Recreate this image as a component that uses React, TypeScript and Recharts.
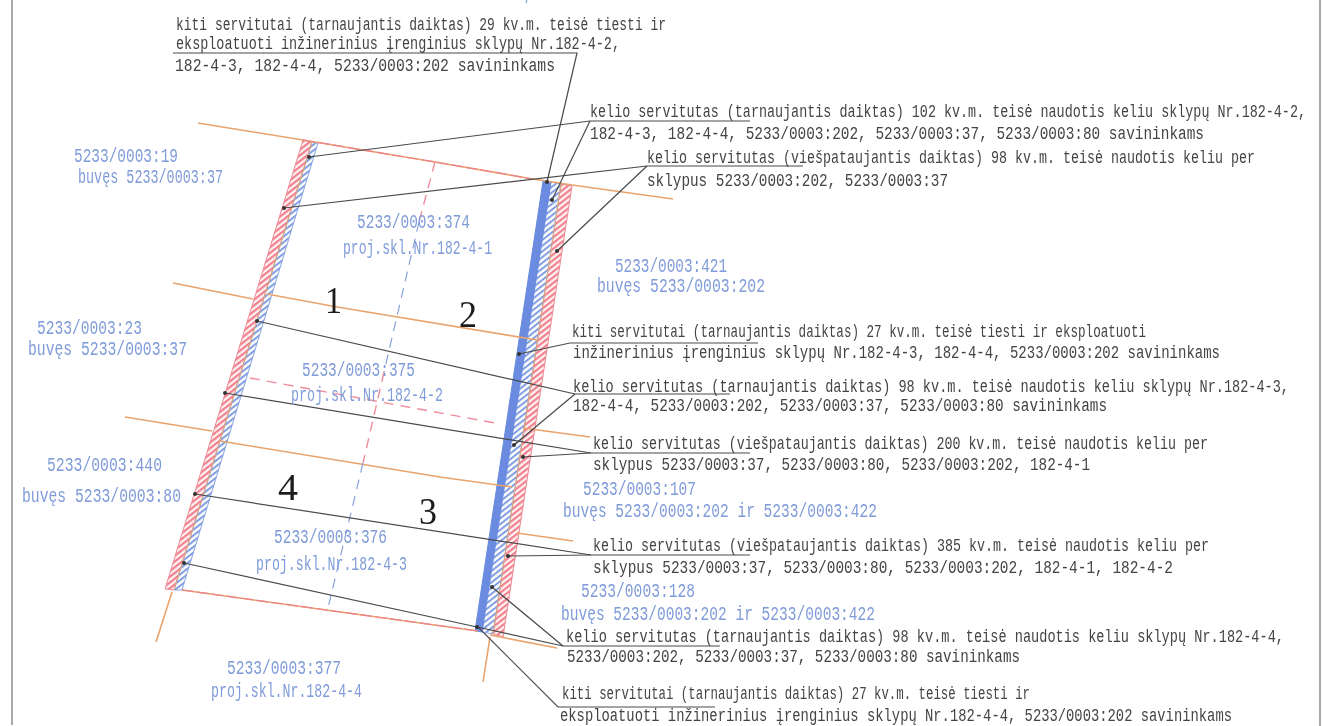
import { ScatterChart, Scatter, XAxis, YAxis } from 'recharts';

type Pt = [number, number];
type Label = { x: number; x2: number; y: number; text: string };

const WIDTH = 1322;
const HEIGHT = 726;

// map outline, in sheet coordinates
const redHatchStrips: Pt[][] = [
  [[303, 140], [312, 142], [174, 590], [165, 589], [303, 140]],
  [[561, 184], [572, 186], [503, 637], [493, 634], [561, 184]],
];
const blueHatchStrips: Pt[][] = [
  [[312, 142], [318, 143], [182, 590], [174, 590], [312, 142]],
  [[551, 182], [561, 184], [493, 634], [482, 632], [551, 182]],
];
const solidBlueStrips: Pt[][] = [
  [[543, 181], [551, 182], [482, 632], [475, 631], [543, 181]],
];
const sheetEdges: Pt[][] = [
  [[12, 0], [12, 725]],
  [[1320, 0], [1320, 726]],
];
const orangeLines: Pt[][] = [
  [[198, 123], [303, 140], [435, 162], [533, 179], [572, 185], [673, 199]],
  [[173, 283], [253, 299]],
  [[267, 294], [337, 307], [537, 340]],
  [[125, 417], [212, 431]],
  [[220, 441], [440, 477], [512, 487]],
  [[523, 428], [590, 437]],
  [[517, 533], [573, 541]],
  [[182, 590], [478, 631]],
  [[490, 635], [557, 648]],
  [[490, 637], [483, 682]],
  [[172, 592], [156, 642]],
];
const stripSeams: Pt[][] = [
  [[312, 142], [174, 590]],
  [[561, 184], [493, 634]],
];
const redLines: Pt[][] = [
  [[303, 140], [435, 162], [533, 179]],
  [[182, 590], [478, 631]],
];
const redDashes: Pt[][] = [
  [[435, 162], [419, 222]],
  [[250, 378], [495, 423]],
  [[384, 372], [363, 463]],
];
const blueDashes: Pt[][] = [
  [[527, 0], [526, 3]],
  [[419, 222], [384, 372]],
  [[363, 463], [327, 612]],
];
const leaderLines: Pt[][] = [
  [[173, 53], [577, 53], [547, 182]],
  [[309, 157], [590, 121], [750, 121]],
  [[590, 121], [552, 200]],
  [[284, 208], [647, 166], [803, 166]],
  [[647, 166], [557, 251]],
  [[519, 354], [570, 343], [758, 343]],
  [[257, 321], [575, 394], [730, 394]],
  [[575, 394], [514, 445]],
  [[225, 393], [591, 453], [750, 453]],
  [[591, 453], [523, 457]],
  [[195, 494], [591, 555], [750, 555]],
  [[591, 555], [508, 556]],
  [[184, 563], [477, 627], [563, 646], [720, 646]],
  [[563, 646], [492, 587]],
  [[478, 627], [558, 707], [715, 707]],
];
const leaderEnds: Pt[] = [
  [547, 182], [309, 157], [552, 200], [284, 208], [557, 251], [519, 354], [257, 321], [514, 445],
  [225, 393], [523, 457], [195, 494], [508, 556], [184, 563], [477, 627], [492, 587],
];

const noteLines: Label[] = [
  { x: 176, x2: 666, y: 30, text: 'kiti servitutai (tarnaujantis daiktas) 29 kv.m. teisė tiesti ir' },
  { x: 176, x2: 620, y: 49, text: 'eksploatuoti inžinerinius įrenginius sklypų Nr.182-4-2,' },
  { x: 175, x2: 555, y: 71, text: '182-4-3, 182-4-4, 5233/0003:202 savininkams' },
  { x: 590, x2: 1306, y: 117, text: 'kelio servitutas (tarnaujantis daiktas) 102 kv.m. teisė naudotis keliu sklypų Nr.182-4-2,' },
  { x: 590, x2: 1204, y: 139, text: '182-4-3, 182-4-4, 5233/0003:202, 5233/0003:37, 5233/0003:80 savininkams' },
  { x: 647, x2: 1255, y: 163, text: 'kelio servitutas (viešpataujantis daiktas) 98 kv.m. teisė naudotis keliu per' },
  { x: 647, x2: 948, y: 186, text: 'sklypus 5233/0003:202, 5233/0003:37' },
  { x: 572, x2: 1146, y: 337, text: 'kiti servitutai (tarnaujantis daiktas) 27 kv.m. teisė tiesti ir eksploatuoti' },
  { x: 573, x2: 1220, y: 358, text: 'inžinerinius įrenginius sklypų Nr.182-4-3, 182-4-4, 5233/0003:202 savininkams' },
  { x: 573, x2: 1289, y: 392, text: 'kelio servitutas (tarnaujantis daiktas) 98 kv.m. teisė naudotis keliu sklypų Nr.182-4-3,' },
  { x: 573, x2: 1107, y: 411, text: '182-4-4, 5233/0003:202, 5233/0003:37, 5233/0003:80 savininkams' },
  { x: 593, x2: 1208, y: 449, text: 'kelio servitutas (viešpataujantis daiktas) 200 kv.m. teisė naudotis keliu per' },
  { x: 593, x2: 1090, y: 470, text: 'sklypus 5233/0003:37, 5233/0003:80, 5233/0003:202, 182-4-1' },
  { x: 593, x2: 1209, y: 551, text: 'kelio servitutas (viešpataujantis daiktas) 385 kv.m. teisė naudotis keliu per' },
  { x: 593, x2: 1173, y: 573, text: 'sklypus 5233/0003:37, 5233/0003:80, 5233/0003:202, 182-4-1, 182-4-2' },
  { x: 566, x2: 1284, y: 642, text: 'kelio servitutas (tarnaujantis daiktas) 98 kv.m. teisė naudotis keliu sklypų Nr.182-4-4,' },
  { x: 567, x2: 1020, y: 662, text: '5233/0003:202, 5233/0003:37, 5233/0003:80 savininkams' },
  { x: 562, x2: 1030, y: 699, text: 'kiti servitutai (tarnaujantis daiktas) 27 kv.m. teisė tiesti ir' },
  { x: 560, x2: 1232, y: 721, text: 'eksploatuoti inžinerinius įrenginius sklypų Nr.182-4-4, 5233/0003:202 savininkams' },
];

const parcelLabels: Label[] = [
  { x: 74, x2: 178, y: 162, text: '5233/0003:19' },
  { x: 78, x2: 223, y: 183, text: 'buvęs 5233/0003:37' },
  { x: 357, x2: 470, y: 228, text: '5233/0003:374' },
  { x: 343, x2: 492, y: 254, text: 'proj.skl.Nr.182-4-1' },
  { x: 615, x2: 727, y: 272, text: '5233/0003:421' },
  { x: 597, x2: 765, y: 292, text: 'buvęs 5233/0003:202' },
  { x: 37, x2: 142, y: 334, text: '5233/0003:23' },
  { x: 28, x2: 187, y: 355, text: 'buvęs 5233/0003:37' },
  { x: 302, x2: 415, y: 376, text: '5233/0003:375' },
  { x: 291, x2: 443, y: 401, text: 'proj.skl.Nr.182-4-2' },
  { x: 47, x2: 162, y: 471, text: '5233/0003:440' },
  { x: 22, x2: 181, y: 502, text: 'buvęs 5233/0003:80' },
  { x: 583, x2: 696, y: 495, text: '5233/0003:107' },
  { x: 563, x2: 877, y: 517, text: 'buvęs 5233/0003:202 ir 5233/0003:422' },
  { x: 274, x2: 387, y: 543, text: '5233/0003:376' },
  { x: 256, x2: 407, y: 570, text: 'proj.skl.Nr.182-4-3' },
  { x: 581, x2: 695, y: 597, text: '5233/0003:128' },
  { x: 561, x2: 875, y: 620, text: 'buvęs 5233/0003:202 ir 5233/0003:422' },
  { x: 227, x2: 341, y: 674, text: '5233/0003:377' },
  { x: 211, x2: 362, y: 697, text: 'proj.skl.Nr.182-4-4' },
];

const plotNumbers: Label[] = [
  { x: 325, x2: 342, y: 313, text: '1' },
  { x: 459, x2: 477, y: 327, text: '2' },
  { x: 419, x2: 437, y: 524, text: '3' },
  { x: 278, x2: 298, y: 500, text: '4' },
];

const toRows = (pts: Pt[]) => pts.map(([x, y]) => ({ x, y }));

const noDot = () => <g />;

// the CAD lettering is tall and narrow, so the font is stretched upward
const labelShape = (fill: string, font: string, size: number, stretch: number) => (props: any) => {
  const { cx, cy, payload } = props;
  return (
    <text
      transform={`translate(${cx},${cy}) scale(1,${stretch})`}
      fill={fill}
      fontFamily={font}
      fontSize={size}
      textLength={payload.x2 - payload.x}
      lengthAdjust="spacingAndGlyphs"
      xmlSpace="preserve"
    >
      {payload.text}
    </text>
  );
};

function path(pts: Pt[], key: string, stroke: string, width: number, fill = 'none', dash?: string) {
  return (
    <Scatter
      key={key}
      data={toRows(pts)}
      dataKey="y"
      isAnimationActive={false}
      shape={noDot}
      line={{ stroke, strokeWidth: width, fill, strokeDasharray: dash }}
    />
  );
}

export default function App() {
  return (
    <div
      style={{
        position: 'absolute',
        left: 0,
        top: 0,
        width: WIDTH,
        height: HEIGHT,
        background: '#fff',
        overflow: 'hidden',
        filter: 'blur(0.35px)',
      }}
    >
      <ScatterChart width={WIDTH} height={HEIGHT} margin={{ top: 0, right: 0, bottom: 0, left: 0 }}>
        <defs>
          <pattern id="redHatch" width="4.5" height="4.5" patternUnits="userSpaceOnUse" patternTransform="rotate(-38)">
            <rect width="4.5" height="4.5" fill="#fff4f4" />
            <rect width="4.5" height="2.2" fill="#f0808e" />
          </pattern>
          <pattern id="blueHatch" width="4.5" height="4.5" patternUnits="userSpaceOnUse" patternTransform="rotate(-38)">
            <rect width="4.5" height="4.5" fill="#ffffff" />
            <rect width="4.5" height="2" fill="#7f9de0" />
          </pattern>
        </defs>
        <XAxis type="number" dataKey="x" domain={[0, WIDTH]} hide />
        <YAxis type="number" dataKey="y" domain={[0, HEIGHT]} reversed hide />

        {sheetEdges.map((s, i) => path(s, `se${i}`, '#a8a8a8', 2))}
        {redHatchStrips.map((s, i) => path(s, `rh${i}`, '#ee8a94', 1, 'url(#redHatch)'))}
        {blueHatchStrips.map((s, i) => path(s, `bh${i}`, '#8ba6e2', 1, 'url(#blueHatch)'))}
        {solidBlueStrips.map((s, i) => path(s, `sb${i}`, '#6a8be0', 1, '#6a8be0'))}
        {stripSeams.map((s, i) => path(s, `ss${i}`, '#e9a46e', 1))}
        {orangeLines.map((s, i) => path(s, `or${i}`, '#e9a46e', 1.6))}
        {redLines.map((s, i) => path(s, `rd${i}`, '#ef7f8a', 1.2, 'none', '12 3'))}
        {redDashes.map((s, i) => path(s, `rx${i}`, '#f08c9c', 1.4, 'none', '10 7'))}
        {blueDashes.map((s, i) => path(s, `bx${i}`, '#7f9bd9', 1.1, 'none', '10 7'))}
        {leaderLines.map((s, i) => path(s, `ld${i}`, '#4a4a4a', 1.2))}

        <Scatter
          data={toRows(leaderEnds)}
          dataKey="y"
          isAnimationActive={false}
          shape={(p: any) => <circle cx={p.cx} cy={p.cy} r={2} fill="#333" />}
        />
        <Scatter
          data={parcelLabels}
          dataKey="y"
          isAnimationActive={false}
          shape={labelShape('#7f9bd9', '"Liberation Mono"', 14, 1.4)}
        />
        <Scatter
          data={noteLines}
          dataKey="y"
          isAnimationActive={false}
          shape={labelShape('#444444', '"Liberation Mono"', 13.4, 1.32)}
        />
        <Scatter
          data={plotNumbers}
          dataKey="y"
          isAnimationActive={false}
          shape={labelShape('#1c1c1c', '"Liberation Serif"', 38, 1)}
        />
      </ScatterChart>
    </div>
  );
}
